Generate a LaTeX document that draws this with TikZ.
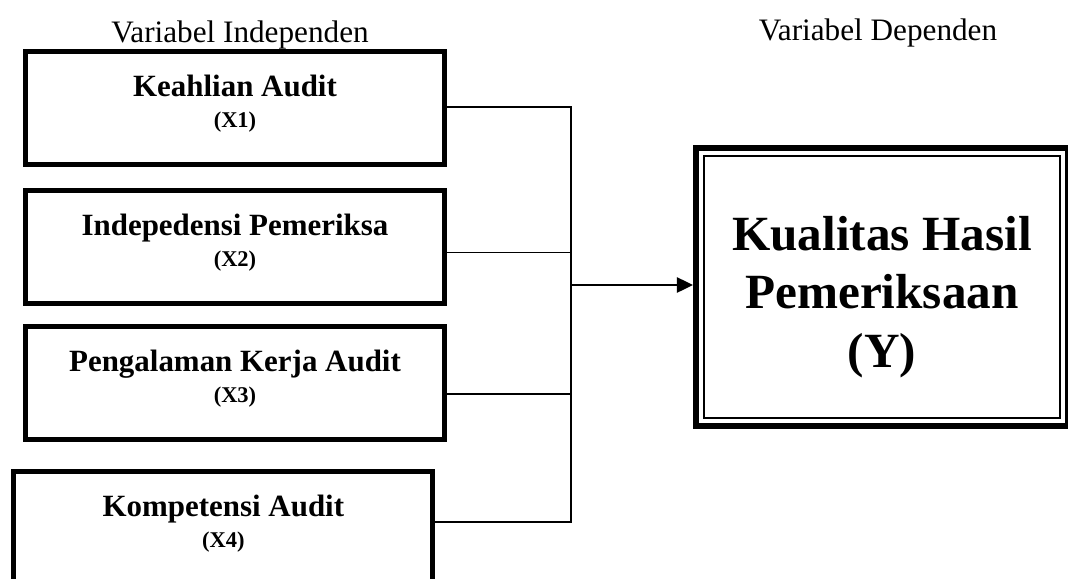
\documentclass[tikz,border=0pt]{standalone}
\usepackage{fontspec}
\setmainfont{Liberation Serif}
\usetikzlibrary{positioning,calc,arrows.meta}
\newcommand{\varlabel}[1]{{\fontsize{16}{22}\selectfont (#1)\rule[-10pt]{0pt}{0pt}}}

\begin{document}
\begin{tikzpicture}[x=0.025cm,y=-0.025cm,>={Triangle[length=0.4cm,width=0.38cm]},
    var node/.style={rectangle,draw,line width=0.125cm,minimum width=10.475cm,
      minimum height=2.825cm,align=center,inner sep=0pt,
      font=\bfseries\fontsize{22}{22}\selectfont},
    dep node/.style={rectangle,draw,line width=0.15cm,minimum width=9.3cm,
      minimum height=6.96cm,align=center,inner sep=0pt,
      font=\bfseries\fontsize{35}{41.5}\selectfont},
    head node/.style={font=\fontsize{22.2}{24}\selectfont},
    link/.style={line width=0.035cm},
    main arrow/.style={line width=0.05cm,->}]
    \useasboundingbox (0,0) rectangle (1068,579);
    % nodes
      \node[head node] (indep) at (240,35) {Variabel Independen};
      \node[head node] (dep) at (878,33) {Variabel Dependen};
      \node[var node] (x1) at (235,108) {Keahlian Audit\\\varlabel{X1}};
      \node[var node] (x2) [below=0.525cm of x1] {Indepedensi Pemeriksa\\\varlabel{X2}};
      \node[var node] (x3) [below=0.45cm of x2] {Pengalaman Kerja Audit\\\varlabel{X3}};
      \node[var node] (x4) [below=0.675cm of x3,xshift=-0.29cm] {Kompetensi Audit\\\varlabel{X4}};
      \node[dep node] (y) at (882,286.75) {\rule{0pt}{39pt}Kualitas Hasil\\Pemeriksaan\\(Y)};
      \draw[line width=0.05cm] ([shift={(11,11)}]y.north west) rectangle ([shift={(-11,-11)}]y.south east);
    %edges
      \coordinate (trunk) at (571,285);
      \coordinate (l2) at ([shift={(0,5.5)}]x2.east);
      \coordinate (l3) at ([shift={(0,11)}]x3.east);
      \draw[link] ([shift={(0,-1)}]x1.east) -| (trunk) |- ([shift={(0,-6)}]x4.east);
      \draw[link] (l2) -- (l2 -| trunk);
      \draw[link] (l3) -- (l3 -| trunk);
      \draw[main arrow] (trunk) -- (trunk -| y.west);
\end{tikzpicture}
\end{document}
